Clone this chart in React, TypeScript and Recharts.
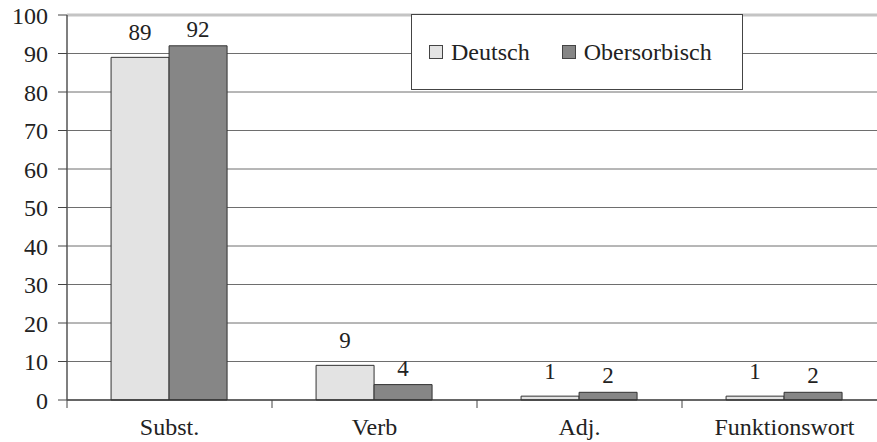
import React from 'react';
import {
  BarChart,
  Bar,
  XAxis,
  YAxis,
  CartesianGrid,
  Legend,
  LabelList,
  ReferenceLine,
} from 'recharts';

const categories = ['Subst.', 'Verb', 'Adj.', 'Funktionswort'];
const deutsch = [89, 9, 1, 1];
const obersorbisch = [92, 4, 2, 2];
const yTicks = [0, 10, 20, 30, 40, 50, 60, 70, 80, 90, 100];
const gridValues = [10, 20, 30, 40, 50, 60, 70, 80, 90];

const data = categories.map((name, i) => ({
  name,
  Deutsch: deutsch[i],
  Obersorbisch: obersorbisch[i],
}));

const FONT = 'Liberation Serif, DejaVu Serif, Times New Roman, serif';

// category label in the middle, tick mark on the boundary between categories
const CategoryTick = (props: any) => {
  const { x, y, width, visibleTicksCount, index, payload } = props;
  const half = width / visibleTicksCount / 2;
  return (
    <g>
      <line x1={x - half} x2={x - half} y1={y - 18} y2={y - 10} stroke="#444" />
      {index === visibleTicksCount - 1 && (
        <line x1={x + half} x2={x + half} y1={y - 18} y2={y - 10} stroke="#444" />
      )}
      <text x={x} y={y} dy="0.71em" textAnchor="middle" fill="#222" fontFamily={FONT} fontSize={24}>
        {payload.value}
      </text>
    </g>
  );
};

const renderLegend = (props: any) => {
  const { payload } = props;
  return (
    <div
      style={{
        width: 332,
        height: 76,
        border: '1px solid #444',
        background: '#fff',
        display: 'flex',
        alignItems: 'center',
        fontFamily: FONT,
        fontSize: 24,
        color: '#222',
        boxSizing: 'border-box',
        paddingLeft: 17,
      }}
    >
      {payload.map((entry: any, i: number) => (
        <div key={entry.value} style={{ display: 'flex', alignItems: 'center', marginRight: i === 0 ? 32 : 0 }}>
          <span
            style={{
              display: 'inline-block',
              width: 14,
              height: 14,
              background: entry.color,
              border: '1px solid #444',
              marginRight: 8,
              boxSizing: 'border-box',
            }}
          />
          <span>{entry.value}</span>
        </div>
      ))}
    </div>
  );
};

const App: React.FC = () => {
  return (
    <div style={{ position: 'absolute', left: 0, top: 0, width: 877, height: 442, overflow: 'hidden', background: '#fff', fontFamily: FONT }}>
      <BarChart
        width={887}
        height={442}
        data={data}
        margin={{ top: 15, right: 0, left: 0, bottom: 0 }}
        barCategoryGap="21.5%"
        barGap={0}
      >
        <CartesianGrid vertical={false} horizontalValues={gridValues} stroke="#6e6e6e" strokeWidth={1} />
        <ReferenceLine y={100} stroke="#c4c4c4" strokeWidth={3} />
        <XAxis
          dataKey="name"
          height={42}
          tickLine={false}
          tickSize={0}
          tickMargin={18}
          axisLine={{ stroke: '#333', strokeWidth: 1.5 }}
          tick={<CategoryTick />}
        />
        <YAxis
          width={67}
          domain={[0, 100]}
          ticks={yTicks}
          tickSize={9}
          tickMargin={10}
          axisLine={{ stroke: '#555', strokeWidth: 1.5 }}
          tickLine={{ stroke: '#444' }}
          tick={{ fill: '#222', fontFamily: FONT, fontSize: 24 }}
        />
        <Legend
          layout="horizontal"
          align="center"
          verticalAlign="middle"
          content={renderLegend}
          wrapperStyle={{ left: 411, top: 14, width: 334, height: 78 }}
        />
        <Bar dataKey="Deutsch" fill="#e3e3e3" stroke="#333" strokeWidth={1} isAnimationActive={false}>
          <LabelList dataKey="Deutsch" position="top" offset={17} fill="#222" fontFamily={FONT} fontSize={23} />
        </Bar>
        <Bar dataKey="Obersorbisch" fill="#868686" stroke="#333" strokeWidth={1} isAnimationActive={false}>
          <LabelList dataKey="Obersorbisch" position="top" offset={9} fill="#222" fontFamily={FONT} fontSize={23} />
        </Bar>
      </BarChart>
    </div>
  );
};

export default App;
